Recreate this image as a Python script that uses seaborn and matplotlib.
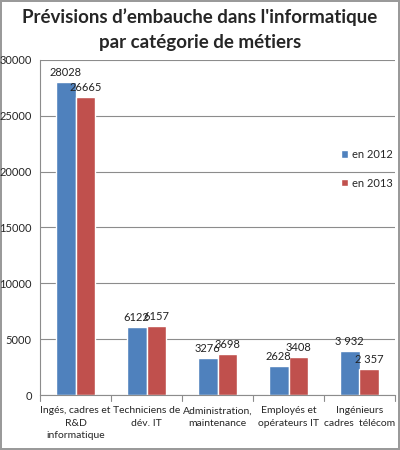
import matplotlib
matplotlib.use("Agg")
import matplotlib.pyplot as plt
import pandas as pd
import seaborn as sns

categories = ["Ingés, cadres et\nR&D\ninformatique", "Techniciens de\ndév. IT",
              "Administration,\nmaintenance", "Employés et\nopérateurs IT",
              "Ingénieurs\ncadres  télécom"]
series = ["en 2012", "en 2013"]
values_2012 = [28028, 6122, 3276, 2628, 3932]
values_2013 = [26665, 6157, 3698, 3408, 2357]
labels_2012 = ["28028", "6122", "3276", "2628", "3 932"]
labels_2013 = ["26665", "6157", "3698", "3408", "2 357"]
y_ticks = [0, 5000, 10000, 15000, 20000, 25000, 30000]

df = pd.DataFrame({
    "cat": categories * 2,
    "year": [series[0]] * 5 + [series[1]] * 5,
    "val": values_2012 + values_2013,
})

sns.set_style("white")
plt.rcParams["font.family"] = ["Lato", "DejaVu Sans"]

fig = plt.figure(figsize=(4, 4.5), dpi=100)
fig.patch.set_edgecolor("#9a9a9a")
fig.patch.set_linewidth(1.5)
ax = fig.add_axes([0.1, 0.122, 0.8875, 0.745])

sns.barplot(data=df, x="cat", y="val", hue="year", order=categories,
            hue_order=series, palette=["#4F81BD", "#C0504D"], width=0.56,
            saturation=1, ax=ax, legend=True)

for cont, labs in zip(ax.containers, [labels_2012, labels_2013]):
    ax.bar_label(cont, labels=labs, padding=3, fontsize=8, color="#222222")

ax.set_ylim(0, 30000)
ax.set_yticks(y_ticks)
ax.set_yticklabels([str(t) for t in y_ticks], fontsize=8)
ax.set_xlim(-0.5, 4.5)
ax.yaxis.grid(True, color="#8c8c8c", linewidth=0.8)
ax.set_axisbelow(True)
ax.set_xlabel("")
ax.set_ylabel("")
ax.tick_params(axis="x", labelsize=7.5, length=0, pad=8)
for t in ax.get_xticklabels():
    t.set_linespacing(1.5)
ax.tick_params(axis="y", length=4, color="#8c8c8c", pad=2)
for s in ["top", "right"]:
    ax.spines[s].set_visible(False)
for s in ["left", "bottom"]:
    ax.spines[s].set_color("#8c8c8c")
# tick marks between groups on category axis
for xb in [-0.5, 0.5, 1.5, 2.5, 3.5, 4.5]:
    ax.plot([xb, xb], [0, -500], color="#8c8c8c", lw=0.8, clip_on=False)

h, l = ax.get_legend_handles_labels()
ax.legend(h, l, loc="center left", bbox_to_anchor=(0.82, 0.675), frameon=False,
          fontsize=8, handlelength=0.6, handleheight=0.6, handletextpad=0.4,
          labelspacing=1.6)

fig.suptitle("Prévisions d’embauche dans l'informatique\npar catégorie de métiers",
             fontsize=13.5, fontweight="bold", y=0.982, linespacing=1.6)

fig.savefig("out.png", dpi=100)
